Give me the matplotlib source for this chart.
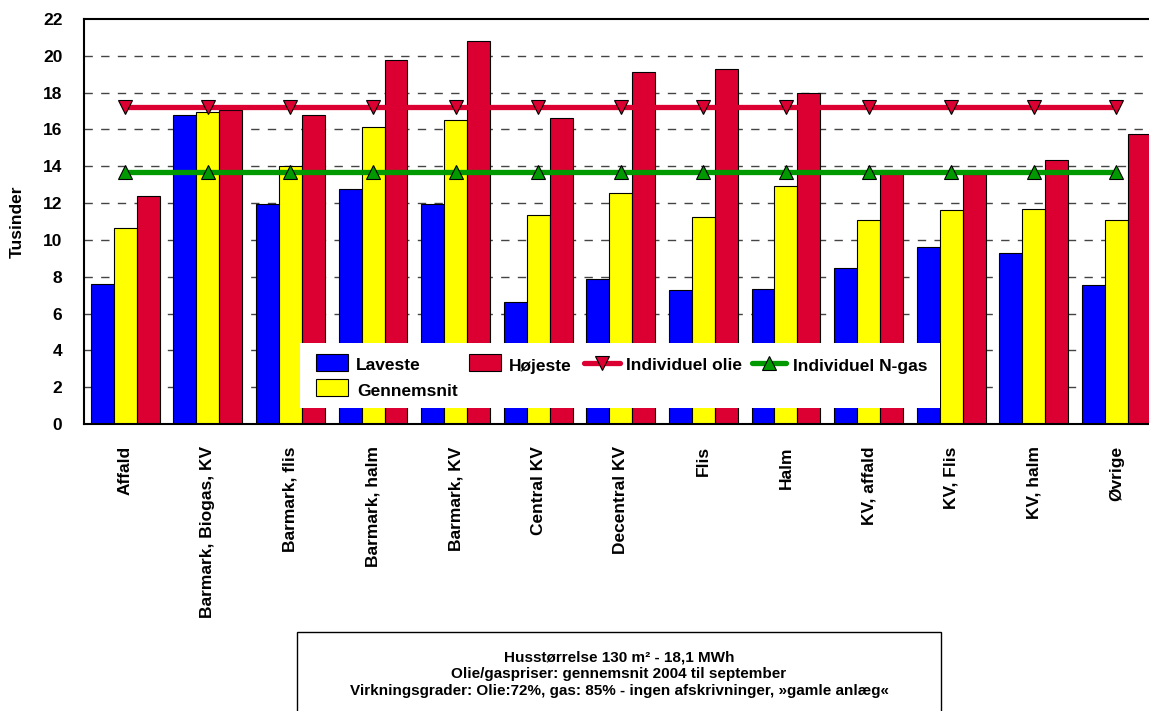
import matplotlib
matplotlib.use("Agg")
import matplotlib.pyplot as plt
import numpy as np
from matplotlib.patches import Rectangle
from matplotlib.lines import Line2D

plt.rcParams['font.family'] = ['Liberation Sans', 'DejaVu Sans']
plt.rcParams['font.weight'] = 'bold'

categories = ["Affald", "Barmark, Biogas, KV", "Barmark, flis", "Barmark, halm",
              "Barmark, KV", "Central KV", "Decentral KV", "Flis", "Halm",
              "KV, affald", "KV, Flis", "KV, halm", "Øvrige"]
laveste = [7.59, 16.76, 11.97, 12.75, 11.96, 6.61, 7.90, 7.26, 7.34, 8.46, 9.64, 9.27, 7.54]
gennemsnit = [10.63, 16.94, 14.02, 16.12, 16.52, 11.34, 12.57, 11.27, 12.95, 11.09, 11.63, 11.70, 11.09]
hojeste = [12.37, 17.07, 16.76, 19.76, 20.82, 16.61, 19.11, 19.26, 18.00, 13.82, 13.57, 14.33, 15.76]
olie = [17.24] * 13
ngas = [13.70] * 13
yticks = list(range(0, 23, 2))
series_labels = ["Laveste", "Gennemsnit", "Højeste", "Individuel olie", "Individuel N-gas"]
note_lines = ["Husstørrelse 130 m² - 18,1 MWh",
              "Olie/gaspriser: gennemsnit 2004 til september",
              "Virkningsgrader: Olie:72%, gas: 85% - ingen afskrivninger, »gamle anlæg«"]

BLUE = "#0000FF"
YELLOW = "#FFFF00"
RED = "#DC0032"
GREEN = "#009900"
FS = 12.5

W, H = 1149, 711
fig = plt.figure(figsize=(W / 100, H / 100), dpi=100)


def fx(px):
    return px / W


def fy(py):
    return 1 - py / H


ax = fig.add_axes([fx(84), fy(424), (1157.6 - 84) / W, 405 / H])

x = np.arange(len(categories))
bw = 0.278
ax.bar(x - bw, laveste, bw, color=BLUE, edgecolor="black", linewidth=0.8, zorder=2)
ax.bar(x, gennemsnit, bw, color=YELLOW, edgecolor="black", linewidth=0.8, zorder=2)
ax.bar(x + bw, hojeste, bw, color=RED, edgecolor="black", linewidth=0.8, zorder=2)
line_kw = dict(linewidth=3.8, markersize=10, markeredgecolor="black", markeredgewidth=0.8)
ax.plot(x, olie, color=RED, marker="v", markerfacecolor=RED, zorder=3, **line_kw)
ax.plot(x, ngas, color=GREEN, marker="^", markerfacecolor=GREEN, zorder=3, **line_kw)

ax.set_xlim(-0.5, len(categories) - 0.5)
ax.set_ylim(0, 22)
ax.set_yticks(yticks)
ax.set_yticklabels([str(t) for t in yticks], fontsize=FS, fontweight="bold")
ax.set_xticks(x)
ax.set_xticklabels(categories, rotation=90, fontsize=FS, fontweight="bold", va="top")
ax.tick_params(axis="both", length=0)
ax.tick_params(axis="y", pad=15.5)
ax.tick_params(axis="x", pad=16)
for t in yticks[1:-1]:
    ax.axhline(t, color="#444444", linewidth=1.0, linestyle=(0, (6, 6)), zorder=1)
for s in ["left", "top", "bottom"]:
    ax.spines[s].set_linewidth(1.5)
    ax.spines[s].set_color("black")
ax.spines["right"].set_visible(False)
fig.text(fx(17), fy(222), "Tusinder", rotation=90, ha="center", va="center",
         fontsize=FS, fontweight="bold")

# legend (drawn as a white panel over the bars, entries laid out as in the original)
fig.add_artist(Rectangle((fx(300), fy(408)), (940 - 300) / W, (408 - 343) / H,
                         transform=fig.transFigure, facecolor="white", edgecolor="none",
                         zorder=5))
patch_entries = [(316, 354, BLUE, series_labels[0], 356),
                 (316, 379, YELLOW, series_labels[1], 357),
                 (469, 354, RED, series_labels[2], 509)]
for px0, py0, col, lab, tx in patch_entries:
    fig.add_artist(Rectangle((fx(px0), fy(py0 + 17)), 32 / W, 17 / H,
                             transform=fig.transFigure, facecolor=col,
                             edgecolor="black", linewidth=0.8, zorder=6))
    fig.text(fx(tx), fy(py0 + 16.5), lab, ha="left", va="baseline",
             fontsize=FS, fontweight="bold", zorder=7)
line_entries = [(584, 620, RED, "v", series_labels[3], 626),
                (752, 786, GREEN, "^", series_labels[4], 793)]
for lx0, lx1, col, mk, lab, tx in line_entries:
    fig.add_artist(Line2D([fx(lx0), fx(lx1)], [fy(363), fy(363)], transform=fig.transFigure,
                          color=col, linewidth=3.8, solid_capstyle="round", zorder=6))
    fig.add_artist(Line2D([fx((lx0 + lx1) / 2)], [fy(363)], transform=fig.transFigure,
                          color=col, marker=mk, markersize=10, markerfacecolor=col,
                          markeredgecolor="black", markeredgewidth=0.8, linestyle="none",
                          zorder=7))
    fig.text(fx(tx), fy(370.5), lab, ha="left", va="baseline",
             fontsize=FS, fontweight="bold", zorder=7)

# note box
fig.add_artist(Rectangle((fx(297), -0.02), (941 - 297) / W, (H - 632) / H + 0.02,
                         transform=fig.transFigure, facecolor="white",
                         edgecolor="black", linewidth=1.0))
for i, line in enumerate(note_lines):
    fig.text(fx(619), fy(657 + 17 * i), line, ha="center", va="center",
             fontsize=11, fontweight="bold")

fig.savefig("out.png", dpi=100)
